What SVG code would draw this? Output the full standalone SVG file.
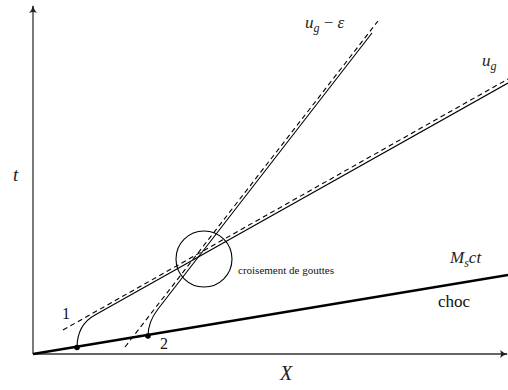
<svg xmlns="http://www.w3.org/2000/svg" width="508" height="390" viewBox="0 0 508 390">
<style>
.ln{fill:none;stroke:#000;stroke-width:1.1}
.ds{fill:none;stroke:#000;stroke-width:1.1;stroke-dasharray:5 3.5}
.ax{fill:none;stroke:#333;stroke-width:1.3}
text{font-family:'Liberation Serif','DejaVu Serif',serif}
.m{font-style:italic;fill:#222}
.r{fill:#111}
</style>
<defs>
<marker id="ar" markerWidth="10" markerHeight="10" refX="7" refY="4" orient="auto" markerUnits="userSpaceOnUse">
<path d="M0,0 Q3,3 8,4 Q3,5 0,8 Q2,4 0,0Z" fill="#222"/>
</marker>
</defs>
<g id="axes">
<line class="ax" x1="33" y1="354" x2="33" y2="6" marker-end="url(#ar)"/>
<line class="ax" x1="33" y1="354" x2="507" y2="354" marker-end="url(#ar)"/>
<text class="m" x="13" y="181" font-size="19">t</text>
<text class="m" x="280" y="380" font-size="20">X</text>
</g>
<g id="connectors">
<path id="shock" d="M33,354 L508,275" fill="none" stroke="#000" stroke-width="2.4"/>
<path class="ln" d="M77,348 C77,335 82,322 95,315 L508,83"/>
<path class="ds" d="M63,330 L508,79"/>
<path class="ln" d="M148,336 C148,326 151,318 158,309 L372,33"/>
<path class="ds" d="M125,347 L378,21"/>
</g>
<g id="drop1">
<circle cx="77" cy="347.5" r="2.8" fill="#000"/>
<text class="r" x="62" y="319" font-size="16" fill="#333">1</text>
</g>
<g id="drop2">
<circle cx="148" cy="336" r="2.8" fill="#000"/>
<text class="r" x="160" y="349" font-size="16" fill="#333">2</text>
</g>
<g id="crossing">
<circle cx="204" cy="259" r="28" fill="none" stroke="#000" stroke-width="1.1"/>
<text class="r" x="238" y="274" font-size="11">croisement de gouttes</text>
</g>
<g id="label-ug-eps">
<text class="m" x="305" y="28" font-size="17">u<tspan font-size="12" dy="4">g</tspan><tspan dy="-4" font-style="normal"> − </tspan>ε</text>
</g>
<g id="label-ug">
<text class="m" x="482" y="66" font-size="17">u<tspan font-size="12" dy="4">g</tspan></text>
</g>
<g id="label-shock">
<text class="m" x="450" y="263" font-size="17">M<tspan font-size="12" dy="4">s</tspan><tspan dy="-4">ct</tspan></text>
<text class="r" x="438" y="307" font-size="17">choc</text>
</g>
</svg>
